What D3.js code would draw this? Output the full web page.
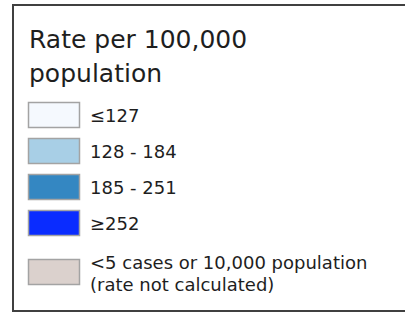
<!DOCTYPE html>
<html>
<head>
<meta charset="utf-8">
<script src="https://cdn.jsdelivr.net/npm/d3@7"></script>
<style>
  body { margin: 0; background: #fff; }
  text { font-family: "DejaVu Sans", sans-serif; fill: #1e1e1e; }
</style>
</head>
<body>
<script>
const titleLines = ["Rate per 100,000", "population"];
const classLabels = [["≤127"], ["128 - 184"], ["185 - 251"], ["≥252"], ["<5 cases or 10,000 population", "(rate not calculated)"]];
const classColors = ["#f5f9fe", "#a8cfe6", "#3487c2", "#0a2cff", "#dbd1cd"];

const width = 405, height = 314;

const svg = d3.select("body")
            .append("svg")
            .attr("width", width)
            .attr("height", height);

// frame, right side runs off the picture
svg.append("rect")
    .attr("x", 13)
    .attr("y", 5)
    .attr("width", 420)
    .attr("height", 306)
    .attr("fill", "#fff")
    .attr("stroke", "#404040")
    .attr("stroke-width", 2);

svg.selectAll(".title")
    .data(titleLines)
    .enter()
    .append("text")
    .attr("class", "title")
    .attr("x", 29)
    .attr("y", (d, i) => 48 + i * 34)
    .style("font-size", "25px")
    .text(d => d);

const yScale = d3.scaleLinear()
                .domain([0, 1])
                .range([102, 138]);

// rows with two text lines get some extra room above
const rowY = function(i){
    let extra = 0;
    for(let j = 0; j <= i; j++) extra += (classLabels[j].length - 1) * 13;
    return yScale(i) + extra;
}

const rows = svg.selectAll(".row")
            .data(classLabels)
            .enter()
            .append("g")
            .attr("class", "row")
            .attr("transform", (d, i) => `translate(0, ${rowY(i)})`);

rows.append("rect")
    .attr("x", 28.5)
    .attr("y", 0.5)
    .attr("width", 51)
    .attr("height", 25)
    .attr("fill", (d, i) => classColors[i])
    .attr("stroke", "#a3a3a3")
    .attr("stroke-width", 1.5);

rows.selectAll("text")
    .data(d => d)
    .enter()
    .append("text")
    .attr("x", 90)
    .attr("y", (d, j, nodes) => nodes.length > 1 ? 10 + j * 22 : 20)
    .style("font-size", "18px")
    .text(d => d);
</script>
</body>
</html>
